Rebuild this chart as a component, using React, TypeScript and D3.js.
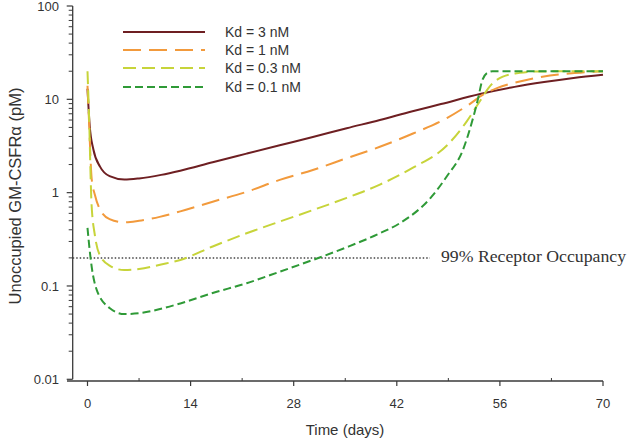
import React from "react";
import * as d3 from "d3";

const W = 630;
const H = 441;

// ---- data ----
const seriesNames = ["Kd = 3 nM", "Kd = 1 nM", "Kd = 0.3 nM", "Kd = 0.1 nM"];
const seriesColors = ["#6e1f22", "#f29a3c", "#c7d43a", "#2f9a37"];
const seriesDash = ["none", "18 8", "13 6", "8 4"];

const kd3Days = [0, 0.3, 0.8, 1.7, 3, 5, 7, 10, 12.6, 17, 21.6, 26.1, 30.6, 35.2, 39.7, 44, 48, 53.3, 58, 62, 66, 70];
const kd3Vals = [13, 5.2, 2.9, 1.9, 1.5, 1.38, 1.42, 1.55, 1.72, 2.12, 2.62, 3.22, 3.95, 4.9, 6.0, 7.4, 8.9, 11.4, 13.6, 15.3, 16.9, 18.3];

const kd1Days = [0, 0.2, 0.57, 1.0, 1.7, 3, 5, 7, 9.8, 12.6, 17, 21.6, 26.1, 30.6, 35.2, 39.7, 44.2, 48.8, 51.9, 53.7, 55.6, 58.7, 62.8, 66.9, 70];
const kd1Vals = [14, 6, 1.4, 0.95, 0.66, 0.52, 0.48, 0.5, 0.55, 0.63, 0.8, 1.02, 1.37, 1.75, 2.34, 3.1, 4.3, 6.3, 8.9, 11.2, 13.2, 15.5, 18, 19.3, 20];

const kd03Days = [0, 0.2, 0.55, 1.0, 1.6, 3, 5, 7, 10, 12.6, 17, 21.6, 26.1, 30.6, 35.2, 39.7, 44.2, 48.8, 51.5, 53.3, 54.6, 56.4, 58.7, 61, 70];
const kd03Vals = [20, 7, 0.75, 0.35, 0.22, 0.165, 0.148, 0.152, 0.17, 0.19, 0.265, 0.367, 0.49, 0.65, 0.88, 1.22, 1.85, 3.2, 5.8, 9.6, 13.7, 17.5, 19.2, 19.9, 20];

const kd01Days = [0, 0.3, 0.57, 1.25, 3, 5, 7, 10, 12.6, 17, 21.6, 26.1, 30.6, 35.2, 39.7, 42.4, 46.7, 48.8, 51, 52.4, 53.1, 53.5, 54.2, 55, 70];
const kd01Vals = [0.42, 0.24, 0.16, 0.091, 0.058, 0.05, 0.051, 0.057, 0.065, 0.084, 0.107, 0.142, 0.19, 0.26, 0.367, 0.47, 0.9, 1.5, 2.9, 6.5, 10.7, 15, 19, 20, 20];

const seriesDays = [kd3Days, kd1Days, kd03Days, kd01Days];
const seriesVals = [kd3Vals, kd1Vals, kd03Vals, kd01Vals];

const xTicks = [0, 14, 28, 42, 56, 70];
const xMinorTicks = [7, 21, 35, 49, 63];
const yTicks = [100, 10, 1, 0.1, 0.01];
const yTickLabels = ["100", "10", "1", "0.1", "0.01"];
const occupancyLevel = 0.2;
const occupancyLabel = "99% Receptor Occupancy";
const xLabel = "Time (days)";
const yLabel = "Unoccupied GM-CSFR\u03b1 (pM)";

export default function App() {
  const x = d3.scaleLinear().domain([0, 70]).range([87.5, 603]);
  const y = d3.scaleLog().domain([0.01, 100]).range([379.3, 6]);
  const axisX = 72.7;
  const axisY = 381;
  const axisColor = "#3a3a3a";

  const yMinor: number[] = [];
  [0.01, 0.1, 1, 10].forEach((d) => {
    for (let k = 2; k <= 9; k++) yMinor.push(d * k);
  });

  const line = d3
    .line<[number, number]>()
    .x((d) => x(d[0]))
    .y((d) => y(d[1]))
    .curve(d3.curveMonotoneX);

  const legendRows = [32, 50, 68, 87];

  return (
    <svg width={W} height={H} style={{ position: "absolute", left: 0, top: 0, background: "#fff" }}>
      {/* y axis */}
      <line x1={axisX} x2={axisX} y1={y(100)} y2={y(0.01)} stroke={axisColor} strokeWidth={1.3} />
      {yTicks.map((t, i) => (
        <g key={"yt" + i}>
          <line x1={axisX - 6} x2={axisX} y1={y(t)} y2={y(t)} stroke={axisColor} strokeWidth={1.2} />
          <text x={59} y={y(t)} dy="0.36em" textAnchor="end" fontFamily="Liberation Sans, Arial, sans-serif" fontSize={13} fill="#333">
            {yTickLabels[i]}
          </text>
        </g>
      ))}
      {yMinor.map((t, i) => (
        <line key={"ym" + i} x1={axisX - 4} x2={axisX} y1={y(t)} y2={y(t)} stroke={axisColor} strokeWidth={1} />
      ))}
      {/* x axis */}
      <line x1={67} x2={x(70)} y1={axisY} y2={axisY} stroke={axisColor} strokeWidth={1.3} />
      {xTicks.map((t, i) => (
        <g key={"xt" + i}>
          <line x1={x(t)} x2={x(t)} y1={axisY} y2={axisY + 5} stroke={axisColor} strokeWidth={1.2} />
          <text x={x(t)} y={408} textAnchor="middle" fontFamily="Liberation Sans, Arial, sans-serif" fontSize={13} fill="#333">
            {t}
          </text>
        </g>
      ))}
      {xMinorTicks.map((t, i) => (
        <line key={"xm" + i} x1={x(t)} x2={x(t)} y1={axisY - 3} y2={axisY} stroke={axisColor} strokeWidth={1} />
      ))}
      <text x={345} y={435} textAnchor="middle" fontFamily="Liberation Sans, Arial, sans-serif" fontSize={15} fill="#333">
        {xLabel}
      </text>
      <text
        transform={`translate(21,196) rotate(-90)`}
        textAnchor="middle"
        fontFamily="Liberation Sans, Arial, sans-serif"
        fontSize={16.5}
        fill="#333"
      >
        {yLabel}
      </text>

      {/* occupancy line */}
      <line
        x1={axisX}
        x2={430}
        y1={y(occupancyLevel)}
        y2={y(occupancyLevel)}
        stroke="#444"
        strokeWidth={1.5}
        strokeDasharray="1.5 2"
      />
      <text
        x={441}
        y={262}
        fontFamily="Liberation Serif, Times New Roman, serif"
        fontSize={16}
        fill="#333"
        textLength={185}
        lengthAdjust="spacingAndGlyphs"
      >
        {occupancyLabel}
      </text>

      {/* series */}
      {seriesNames.map((name, i) => {
        const pts = seriesDays[i].map((d, j) => [d, seriesVals[i][j]] as [number, number]);
        return (
          <path
            key={name}
            d={line(pts) || ""}
            fill="none"
            stroke={seriesColors[i]}
            strokeWidth={2}
            strokeDasharray={seriesDash[i]}
          />
        );
      })}

      {/* legend */}
      {seriesNames.map((name, i) => (
        <g key={"lg" + i}>
          <line
            x1={123}
            x2={205}
            y1={legendRows[i]}
            y2={legendRows[i]}
            stroke={seriesColors[i]}
            strokeWidth={2}
            strokeDasharray={seriesDash[i]}
          />
          <text x={225} y={legendRows[i]} dy="0.36em" fontFamily="Liberation Sans, Arial, sans-serif" fontSize={14} fill="#333">
            {name}
          </text>
        </g>
      ))}
    </svg>
  );
}
